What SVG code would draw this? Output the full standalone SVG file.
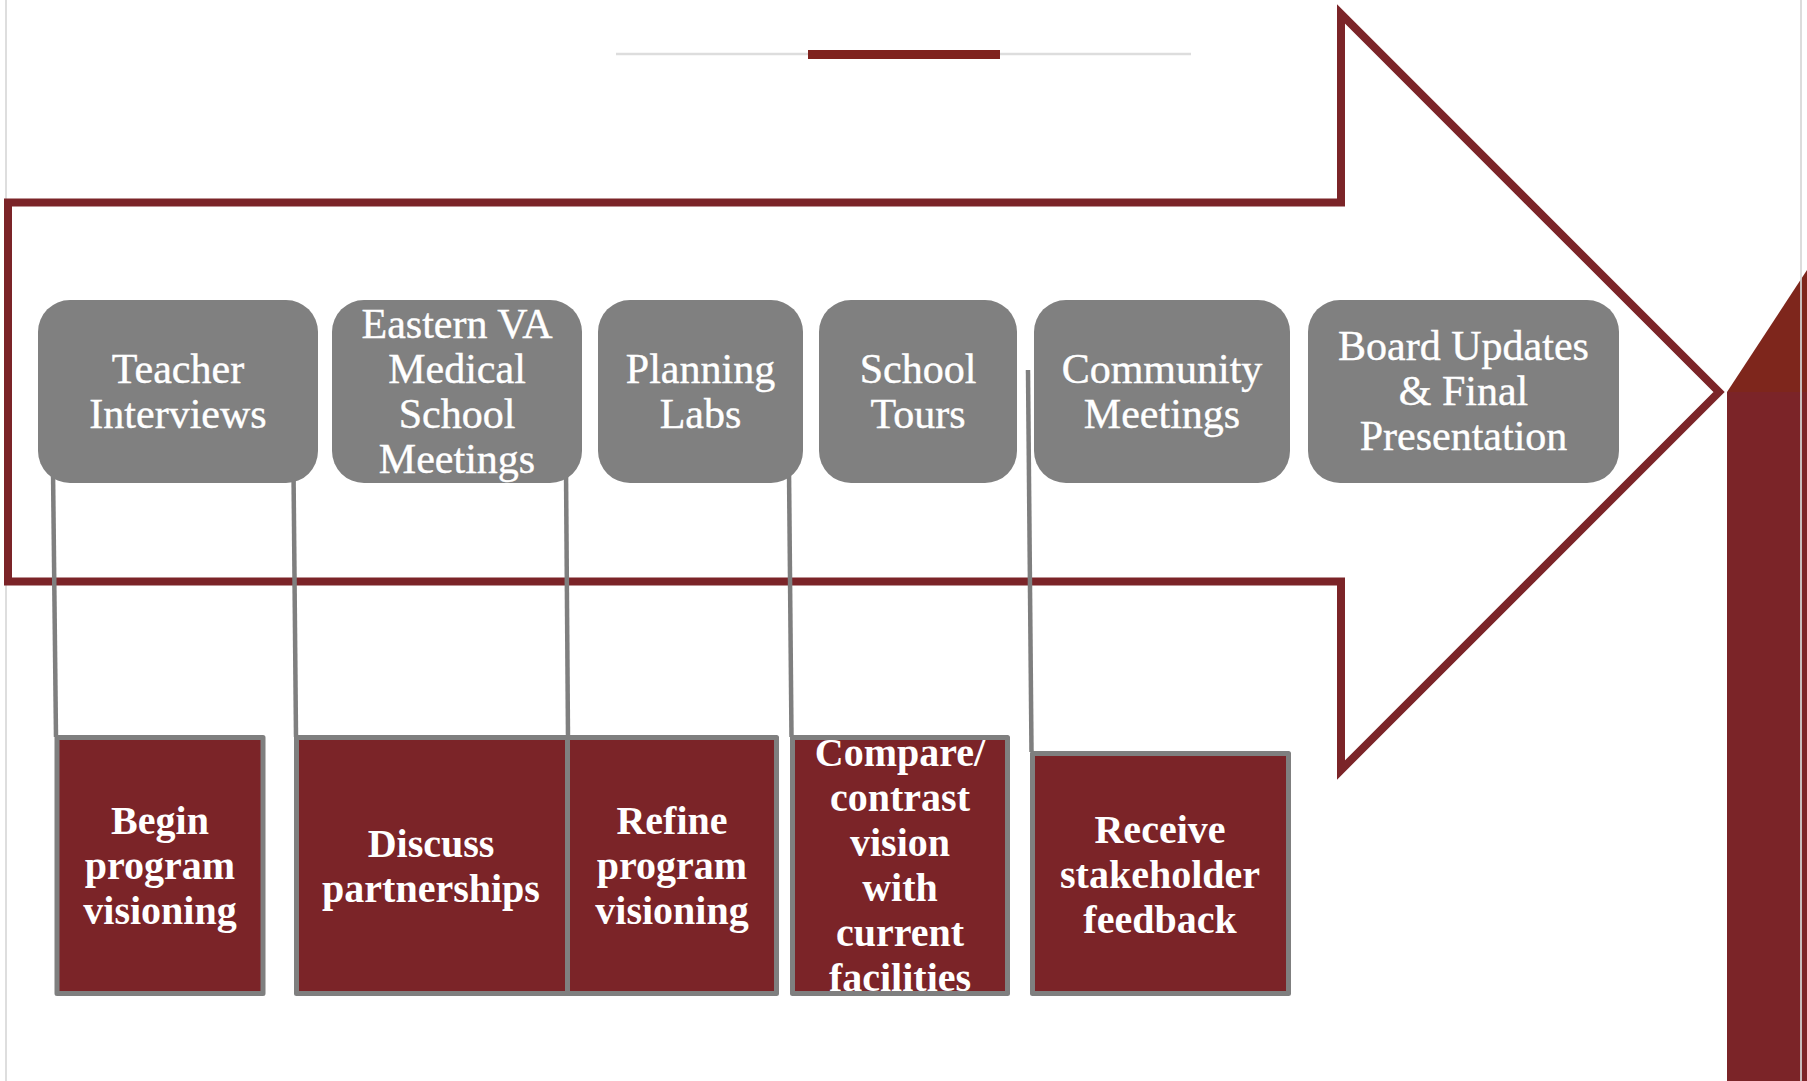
<svg xmlns="http://www.w3.org/2000/svg" width="1807" height="1081" viewBox="0 0 1807 1081">
  <style>
    .phase { fill: #808080; }
    .task { fill: #7B2428; stroke: #7F7F7F; stroke-width: 5; stroke-linejoin: round; }
    .conn { stroke: #7F7F7F; stroke-width: 4.5; fill: none; }
    .pt { font-family: "Liberation Serif", "Times New Roman", serif; font-size: 42px; fill: #FFFFFF; stroke: #FFFFFF; stroke-width: 0.4; text-anchor: middle; }
    .tt { font-family: "Liberation Serif", "Times New Roman", serif; font-size: 40px; font-weight: bold; fill: #FFFFFF; text-anchor: middle; }
  </style>
  <rect x="0" y="0" width="1807" height="1081" fill="#FFFFFF"/>

  <g id="decor">
    <line x1="6" y1="0" x2="6" y2="1081" stroke="#DEDEDE" stroke-width="2"/>
    <line x1="616" y1="54" x2="1191" y2="54" stroke="#DDDDDD" stroke-width="2.5"/>
    <rect x="808" y="50" width="192" height="9" fill="#7F221E"/>
    <polygon points="1727,392 1807,270 1807,392" fill="#7E261C"/>
    <rect x="1727" y="392" width="80" height="689" fill="#7B2428"/>
    <line x1="1801" y1="0" x2="1801" y2="1081" stroke="#D6D6D6" stroke-width="2" opacity="0.85"/>
  </g>

  <g id="arrow">
    <polygon points="8,202.5 1341,202.5 1341,14 1719,392 1341,770 1341,581.5 8,581.5" fill="none" stroke="#7B2428" stroke-width="8"/>
  </g>

  <g id="connectors">
    <line class="conn" x1="53" y1="470" x2="56" y2="737"/>
    <line class="conn" x1="293.5" y1="470" x2="296" y2="737"/>
    <line class="conn" x1="566" y1="470" x2="568" y2="737"/>
    <line class="conn" x1="789" y1="470" x2="791.5" y2="737"/>
    <line class="conn" x1="1028" y1="370" x2="1031.5" y2="752"/>
  </g>

  <g id="phase-teacher-interviews">
    <rect class="phase" x="38" y="300" width="280" height="183" rx="32" ry="32"/>
    <text class="pt" x="178" y="383">Teacher</text>
    <text class="pt" x="178" y="428">Interviews</text>
  </g>
  <g id="phase-evms-meetings">
    <rect class="phase" x="332" y="300" width="250" height="183" rx="32" ry="32"/>
    <text class="pt" x="457" y="338">Eastern VA</text>
    <text class="pt" x="457" y="383">Medical</text>
    <text class="pt" x="457" y="428">School</text>
    <text class="pt" x="457" y="473">Meetings</text>
  </g>
  <g id="phase-planning-labs">
    <rect class="phase" x="598" y="300" width="205" height="183" rx="32" ry="32"/>
    <text class="pt" x="700.5" y="383">Planning</text>
    <text class="pt" x="700.5" y="428">Labs</text>
  </g>
  <g id="phase-school-tours">
    <rect class="phase" x="819" y="300" width="198" height="183" rx="32" ry="32"/>
    <text class="pt" x="918" y="383">School</text>
    <text class="pt" x="918" y="428">Tours</text>
  </g>
  <g id="phase-community-meetings">
    <rect class="phase" x="1034" y="300" width="256" height="183" rx="32" ry="32"/>
    <text class="pt" x="1162" y="383">Community</text>
    <text class="pt" x="1162" y="428">Meetings</text>
  </g>
  <g id="phase-board-updates">
    <rect class="phase" x="1308" y="300" width="311" height="183" rx="32" ry="32"/>
    <text class="pt" x="1463.5" y="360">Board Updates</text>
    <text class="pt" x="1463.5" y="405">&amp; Final</text>
    <text class="pt" x="1463.5" y="450">Presentation</text>
  </g>

  <g id="task-begin-visioning">
    <rect class="task" x="57" y="737.5" width="206" height="256"/>
    <text class="tt" x="160" y="834">Begin</text>
    <text class="tt" x="160" y="879">program</text>
    <text class="tt" x="160" y="924">visioning</text>
  </g>
  <g id="task-discuss-partnerships">
    <rect class="task" x="296.5" y="737.5" width="271" height="256"/>
    <text class="tt" x="431" y="857">Discuss</text>
    <text class="tt" x="431" y="902">partnerships</text>
  </g>
  <g id="task-refine-visioning">
    <rect class="task" x="567.5" y="737.5" width="209" height="256"/>
    <text class="tt" x="672" y="834">Refine</text>
    <text class="tt" x="672" y="879">program</text>
    <text class="tt" x="672" y="924">visioning</text>
  </g>
  <g id="task-compare-contrast">
    <rect class="task" x="792.5" y="737.5" width="215" height="256"/>
    <text class="tt" x="900" y="766">Compare/</text>
    <text class="tt" x="900" y="811">contrast</text>
    <text class="tt" x="900" y="856">vision</text>
    <text class="tt" x="900" y="901">with</text>
    <text class="tt" x="900" y="946">current</text>
    <text class="tt" x="900" y="991">facilities</text>
  </g>
  <g id="task-stakeholder-feedback">
    <rect class="task" x="1032.5" y="753.5" width="256" height="240"/>
    <text class="tt" x="1160" y="843">Receive</text>
    <text class="tt" x="1160" y="888">stakeholder</text>
    <text class="tt" x="1160" y="933">feedback</text>
  </g>
</svg>
